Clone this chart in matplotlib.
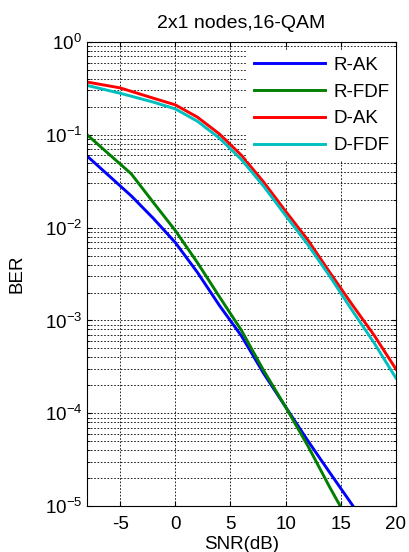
import numpy as np
import matplotlib
matplotlib.use("Agg")
from matplotlib import pyplot as plt

# SNR points (dB)
snr = [-8, -4, -2, 0, 2, 4, 6, 8, 10, 12, 14, 16, 18, 20]
snr_d = [-8, -5, -2, 0, 2, 4, 6, 8, 10, 12, 14, 16, 18, 20]

# BER curves
r_ak = [0.059, 0.022, 0.0126, 6.9e-3, 3.3e-3, 1.45e-3, 6.8e-4, 2.7e-4,
        1.17e-4, 5.1e-5, 2.3e-5, 1.05e-5, 4.6e-6, 2.0e-6]
r_fdf = [0.10, 0.038, 0.0187, 9.3e-3, 4.2e-3, 1.8e-3, 7.8e-4, 2.9e-4,
         1.17e-4, 4.5e-5, 1.6e-5, 6.0e-6, 2.3e-6, 9.0e-7]
d_ak = [0.37, 0.32, 0.248, 0.21, 0.155, 0.102, 0.060, 0.031,
        0.015, 7.4e-3, 3.3e-3, 1.5e-3, 7.0e-4, 3.0e-4]
d_fdf = [0.34, 0.28, 0.225, 0.19, 0.14, 0.092, 0.054, 0.028,
         0.0135, 6.6e-3, 3.0e-3, 1.3e-3, 5.8e-4, 2.4e-4]

labels = ['R-AK', 'R-FDF', 'D-AK', 'D-FDF']
colors = ['#0000ff', '#007f00', '#ff0000', '#00bfbf']

plt.rcParams['font.family'] = ['Liberation Sans', 'DejaVu Sans']
plt.rcParams['mathtext.default'] = 'regular'
plt.rcParams['axes.unicode_minus'] = False

fig = plt.figure(figsize=(4.09, 5.52), dpi=100)
ax = fig.add_axes([0.213, 0.083, 0.755, 0.841])

for x, y, lab, c in zip([snr, snr, snr_d, snr_d], [r_ak, r_fdf, d_ak, d_fdf], labels, colors):
    ax.semilogy(x, y, color=c, lw=2.1, label=lab)

ax.set_xlim(-8, 20)
ax.set_ylim(1e-5, 1)
ax.set_xticks([-5, 0, 5, 10, 15, 20])

ax.grid(True, which='major', color='k', linestyle=(0, (2, 2)), lw=0.6)
ax.grid(True, which='minor', axis='y', color='k', linestyle=(0, (2, 2)), lw=0.6)
ax.tick_params(which='both', direction='in', labelsize=13.5, top=True, right=True)
ax.tick_params(axis='x', pad=7)
ax.tick_params(which='minor', length=2.5)
for s in ax.spines.values():
    s.set_linewidth(0.8)

ax.set_title('2x1 nodes,16-QAM', fontsize=14, pad=10)
ax.set_xlabel('SNR(dB)', fontsize=13.5, labelpad=2)
ax.set_ylabel('BER', fontsize=13.5, labelpad=14)

leg = ax.legend(loc='upper right', bbox_to_anchor=(1, 1 - 8 / 464), fontsize=13.5,
                handlelength=3.8, handletextpad=0.45, labelspacing=0.52,
                borderaxespad=0, borderpad=0.35, fancybox=False, framealpha=1,
                edgecolor='none', facecolor='white')

fig.savefig('out.png', dpi=100)
